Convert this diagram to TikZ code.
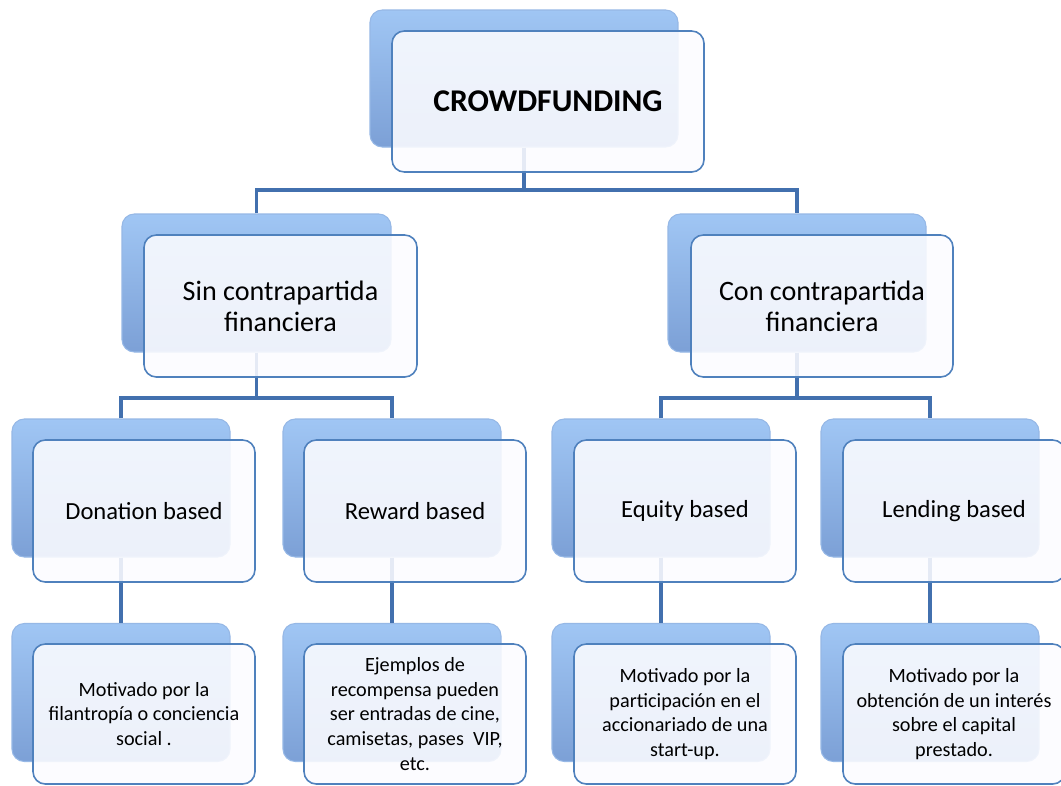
\documentclass[tikz,border=0pt]{standalone}
\usepackage{fontspec}
\setmainfont{Carlito}
\usepackage{xcolor}
\definecolor{cfline}{RGB}{66,112,174}
\definecolor{cftop}{RGB}{160,198,244}
\definecolor{cfmid}{RGB}{132,168,222}
\definecolor{cfbot}{RGB}{124,160,214}
\definecolor{cfedge}{RGB}{150,184,230}
\definecolor{cfframe}{RGB}{79,129,189}
\definecolor{cffill}{RGB}{252,252,255}
\usetikzlibrary{positioning}

\tikzset{
  backbox/.style 2 args={rectangle, rounded corners=7pt, inner sep=0pt,
    minimum width=#1, minimum height=#2, draw=cfedge, line width=0.6pt,
    top color=cftop, middle color=cfmid, bottom color=cfbot},
  frontbox/.style 2 args={rectangle, rounded corners=7pt, inner sep=2pt,
    minimum width=#1, minimum height=#2, draw=cfframe, line width=0.9pt,
    fill=cffill, fill opacity=0.88, text opacity=1, align=center},
  conn/.style={cfline, line width=1.9pt},
  lvlone/.style={font=\fontsize{18}{22}\selectfont\bfseries},
  lvltwo/.style={font=\fontsize{16}{17.5}\selectfont},
  lvlthree/.style={font=\fontsize{14}{17}\selectfont},
  lvlfour/.style={font=\fontsize{11.5}{14}\selectfont}
}

\begin{document}
\begin{tikzpicture}
  \fill[white] (0,0) rectangle (21.22,-15.7);
  \clip (0,0) rectangle (21.22,-15.7);

  % --- back boxes ---
  \node[backbox={6.16cm}{2.74cm}] (crowdB) at (10.48,-1.57) {};
  \node[backbox={5.38cm}{2.76cm}] (sinB) at (5.13,-5.66) {};
  \node[backbox={5.16cm}{2.76cm}] (conB) at (15.94,-5.66) {};
  \node[backbox={4.36cm}{2.76cm}] (donB) at (2.42,-9.76) {};
  \node[backbox={4.36cm}{2.76cm}] (rewB) at (7.84,-9.76) {};
  \node[backbox={4.36cm}{2.76cm}] (equB) at (13.22,-9.76) {};
  \node[backbox={4.36cm}{2.76cm}] (lenB) at (18.6,-9.76) {};
  \node[backbox={4.36cm}{2.76cm}] (donM) at (2.42,-13.85) {};
  \node[backbox={4.36cm}{2.76cm}] (rewM) at (7.84,-13.85) {};
  \node[backbox={4.36cm}{2.76cm}] (equM) at (13.22,-13.85) {};
  \node[backbox={4.36cm}{2.76cm}] (lenM) at (18.6,-13.85) {};

  % --- connectors ---
  \coordinate (j1) at (10.48,-3.8);
  \coordinate (j2) at (5.13,-7.96);
  \coordinate (j3) at (15.94,-7.96);
  \draw[conn] (crowdB.south) -- (j1);
  \draw[conn] (sinB.north) |- (j1) -| (conB.north);
  \draw[conn] (sinB.south) -- (j2);
  \draw[conn] (donB.north) |- (j2) -| (rewB.north);
  \draw[conn] (conB.south) -- (j3);
  \draw[conn] (equB.north) |- (j3) -| (lenB.north);
  \draw[conn] (donB.south) -- (donM.north);
  \draw[conn] (rewB.south) -- (rewM.north);
  \draw[conn] (equB.south) -- (equM.north);
  \draw[conn] (lenB.south) -- (lenM.north);

  % --- front boxes ---
  \node[frontbox={6.24cm}{2.82cm}, lvlone] (crowd) at (10.96,-2.03) {CROWDFUNDING};
  \node[frontbox={5.46cm}{2.84cm}, lvltwo] (sin) at (5.61,-6.12) {Sin contrapartida\\financiera};
  \node[frontbox={5.24cm}{2.84cm}, lvltwo] (con) at (16.44,-6.12) {Con contrapartida\\financiera};
  \node[frontbox={4.44cm}{2.84cm}, lvlthree] (don) at (2.88,-10.22) {Donation based};
  \node[frontbox={4.44cm}{2.84cm}, lvlthree] (rew) at (8.30,-10.22) {Reward based};
  \node[frontbox={4.44cm}{2.84cm}, lvlthree] (equ) at (13.70,-10.22) {Equity based};
  \node[frontbox={4.44cm}{2.84cm}, lvlthree] (len) at (19.08,-10.22) {Lending based};
  \node[frontbox={4.44cm}{2.80cm}, lvlfour] (donT) at (2.88,-14.28)
    {Motivado por la\\filantropía o conciencia\\social .};
  \node[frontbox={4.44cm}{2.80cm}, lvlfour] (rewT) at (8.30,-14.28)
    {Ejemplos de\\recompensa pueden\\ser entradas de cine,\\camisetas, pases\ \ VIP,\\etc.};
  \node[frontbox={4.44cm}{2.80cm}, lvlfour] (equT) at (13.70,-14.28)
    {Motivado por la\\participación en el\\accionariado de una\\start-up.};
  \node[frontbox={4.44cm}{2.80cm}, lvlfour] (lenT) at (19.08,-14.28)
    {Motivado por la\\obtención de un interés\\sobre el capital\\prestado.};
\end{tikzpicture}
\end{document}
